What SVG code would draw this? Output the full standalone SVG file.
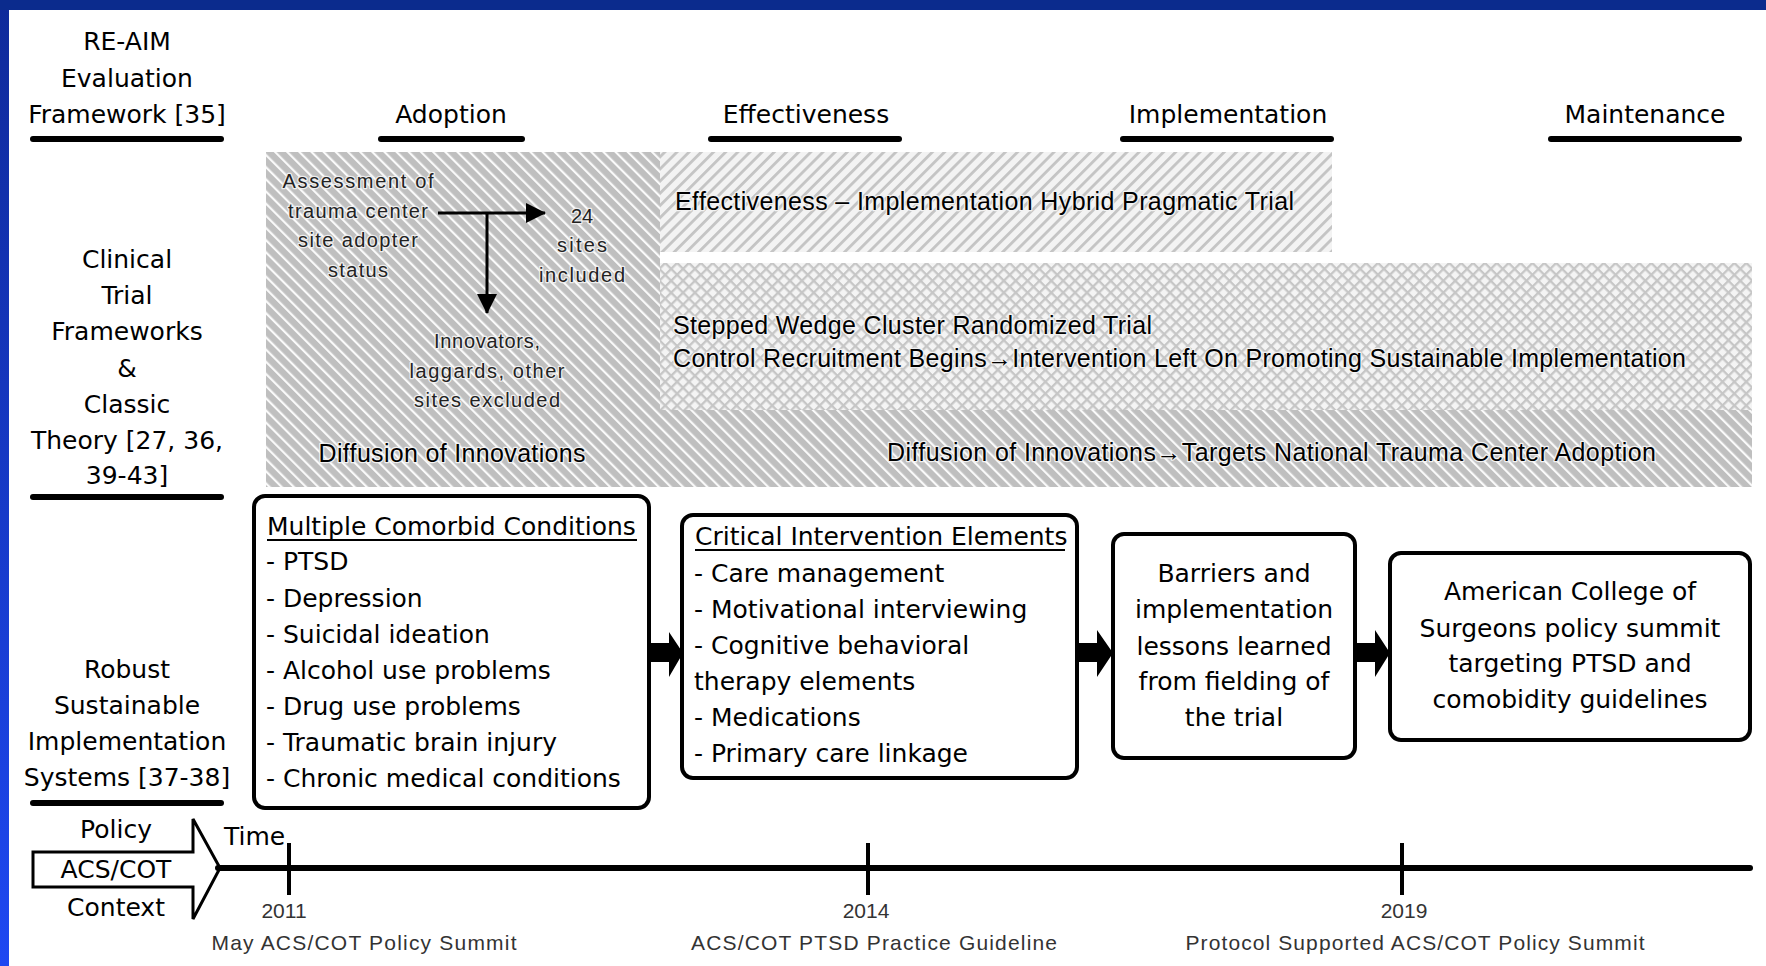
<svg xmlns="http://www.w3.org/2000/svg" width="1766" height="966" viewBox="0 0 1766 966">
<style>
.lab{font-family:"DejaVu Sans","Liberation Sans",sans-serif;font-size:25px;fill:#000}
.mid{text-anchor:middle}
.ht{font-family:"Liberation Sans",Arial,sans-serif;font-size:20px;fill:#222;stroke:#eee;stroke-width:2.5px;paint-order:stroke;stroke-linejoin:round}
.hb{font-family:"Liberation Sans",Arial,sans-serif;font-size:25px;fill:#000;stroke:#f2f2f2;stroke-width:2.5px;paint-order:stroke;stroke-linejoin:round}
.tl{font-family:"Liberation Sans",Arial,sans-serif;font-size:21px;fill:#333}
.ul{stroke:#000;stroke-width:6;stroke-linecap:round}
.box{fill:#fff;stroke:#000;stroke-width:4}
.tick{stroke:#000;stroke-width:4}
</style>
<defs>
<linearGradient id="lb" x1="0" y1="0" x2="0" y2="1">
<stop offset="0" stop-color="#0f2a9a"/>
<stop offset="1" stop-color="#1e48f2"/>
</linearGradient>
<pattern id="hd" patternUnits="userSpaceOnUse" width="8.6" height="8.6" patternTransform="rotate(-45)">
<rect width="8.6" height="8.6" fill="#bfbfbf"/>
<rect width="2.2" height="8.6" fill="#fafafa"/>
</pattern>
<pattern id="hl" patternUnits="userSpaceOnUse" width="8.6" height="8.6" patternTransform="rotate(45)">
<rect width="8.6" height="8.6" fill="#f3f3f3"/>
<rect width="2.8" height="8.6" fill="#c4c4c4"/>
</pattern>
<pattern id="hx" patternUnits="userSpaceOnUse" width="8.4" height="8.4" patternTransform="rotate(45)">
<rect width="8.4" height="8.4" fill="#f4f4f4"/>
<rect width="2.3" height="8.4" fill="#c6c6c6"/>
<rect width="8.4" height="2.3" fill="#c6c6c6"/>
</pattern>
<marker id="ah2" viewBox="0 0 20 20" refX="19" refY="10" markerWidth="20" markerHeight="20" orient="auto" markerUnits="userSpaceOnUse">
<path d="M0,0 L20,10 L0,20 Z" fill="#000"/>
</marker>
</defs>
<rect width="1766" height="966" fill="#fff"/>
<rect x="0" y="0" width="9" height="966" fill="url(#lb)"/>
<rect x="0" y="0" width="1766" height="10" fill="#0b2b8d"/>

<g id="bands">
<rect x="266" y="152" width="394" height="335" fill="url(#hd)"/>
<rect x="660" y="410" width="1092" height="77" fill="url(#hd)"/>
<rect x="660" y="152" width="672" height="100" fill="url(#hl)"/>
<rect x="660" y="263" width="1092" height="147" fill="url(#hx)"/>
</g>

<g id="reaim-header">
<text class="lab mid" x="127" y="50">RE-AIM</text>
<text class="lab mid" x="127" y="87">Evaluation</text>
<text class="lab mid" x="127" y="123">Framework [35]</text>
<line class="ul" x1="33" y1="139" x2="221" y2="139"/>
</g>
<g id="adoption-header">
<text class="lab mid" x="451" y="123">Adoption</text>
<line class="ul" x1="381" y1="139" x2="522" y2="139"/>
</g>
<g id="effectiveness-header">
<text class="lab mid" x="806" y="123">Effectiveness</text>
<line class="ul" x1="711" y1="139" x2="899" y2="139"/>
</g>
<g id="implementation-header">
<text class="lab mid" x="1228" y="123">Implementation</text>
<line class="ul" x1="1123" y1="139" x2="1331" y2="139"/>
</g>
<g id="maintenance-header">
<text class="lab mid" x="1645" y="123">Maintenance</text>
<line class="ul" x1="1551" y1="139" x2="1739" y2="139"/>
</g>

<g id="clinical-label">
<text class="lab mid" x="127" y="268">Clinical</text>
<text class="lab mid" x="127" y="304">Trial</text>
<text class="lab mid" x="127" y="340">Frameworks</text>
<text class="lab mid" x="127" y="377">&amp;</text>
<text class="lab mid" x="127" y="413">Classic</text>
<text class="lab mid" x="127" y="449">Theory [27, 36,</text>
<text class="lab mid" x="127" y="484">39-43]</text>
<line class="ul" x1="33" y1="497" x2="221" y2="497"/>
</g>
<g id="robust-label">
<text class="lab mid" x="127" y="678">Robust</text>
<text class="lab mid" x="127" y="714">Sustainable</text>
<text class="lab mid" x="127" y="750">Implementation</text>
<text class="lab mid" x="127" y="786">Systems [37-38]</text>
<line class="ul" x1="33" y1="803" x2="221" y2="803"/>
</g>

<g id="adoption-content">
<text class="ht mid" x="358" y="188" textLength="151">Assessment of</text>
<text class="ht mid" x="358" y="218" textLength="140">trauma center</text>
<text class="ht mid" x="358" y="247" textLength="120">site adopter</text>
<text class="ht mid" x="358" y="277" textLength="60">status</text>
<text class="ht mid" x="582" y="223">24</text>
<text class="ht mid" x="582" y="252" textLength="50">sites</text>
<text class="ht mid" x="582" y="282" textLength="86">included</text>
<text class="ht mid" x="487" y="348" textLength="106">Innovators,</text>
<text class="ht mid" x="487" y="378" textLength="155">laggards, other</text>
<text class="ht mid" x="487" y="407" textLength="146">sites excluded</text>
<text class="hb mid" x="452" y="462" textLength="267" font-size="24">Diffusion of Innovations</text>
</g>

<g id="trial-content">
<text class="hb" x="675" y="210" textLength="619">Effectiveness – Implementation Hybrid Pragmatic Trial</text>
<text class="hb" x="673" y="334" textLength="479">Stepped Wedge Cluster Randomized Trial</text>
<text class="hb" x="673" y="367" textLength="1013">Control Recruitment Begins→Intervention Left On Promoting Sustainable Implementation</text>
<text class="hb" x="887" y="461" textLength="769">Diffusion of Innovations→Targets National Trauma Center Adoption</text>
</g>

<g id="box-comorbid">
<rect class="box" x="254" y="496" width="395" height="312" rx="11"/>
<text class="lab" x="267" y="535">Multiple Comorbid Conditions</text>
<line x1="267" y1="540" x2="637" y2="540" stroke="#000" stroke-width="2"/>
<text class="lab" x="266" y="570">- PTSD</text>
<text class="lab" x="266" y="607">- Depression</text>
<text class="lab" x="266" y="643">- Suicidal ideation</text>
<text class="lab" x="266" y="679">- Alcohol use problems</text>
<text class="lab" x="266" y="715">- Drug use problems</text>
<text class="lab" x="266" y="751">- Traumatic brain injury</text>
<text class="lab" x="266" y="787">- Chronic medical conditions</text>
</g>

<g id="box-elements">
<rect class="box" x="682" y="515" width="395" height="263" rx="11"/>
<text class="lab" x="695" y="545">Critical Intervention Elements</text>
<line x1="695" y1="550" x2="1065" y2="550" stroke="#000" stroke-width="2"/>
<text class="lab" x="694" y="582">- Care management</text>
<text class="lab" x="694" y="618">- Motivational interviewing</text>
<text class="lab" x="694" y="654">- Cognitive behavioral</text>
<text class="lab" x="694" y="690">therapy elements</text>
<text class="lab" x="694" y="726">- Medications</text>
<text class="lab" x="694" y="762">- Primary care linkage</text>
</g>

<g id="box-barriers">
<rect class="box" x="1113" y="534" width="242" height="224" rx="11"/>
<text class="lab mid" x="1234" y="582">Barriers and</text>
<text class="lab mid" x="1234" y="618">implementation</text>
<text class="lab mid" x="1234" y="655">lessons learned</text>
<text class="lab mid" x="1234" y="690">from fielding of</text>
<text class="lab mid" x="1234" y="726">the trial</text>
</g>

<g id="box-acs">
<rect class="box" x="1390" y="553" width="360" height="187" rx="11"/>
<text class="lab mid" x="1570" y="600">American College of</text>
<text class="lab mid" x="1570" y="637">Surgeons policy summit</text>
<text class="lab mid" x="1570" y="672">targeting PTSD and</text>
<text class="lab mid" x="1570" y="708">comobidity guidelines</text>
</g>

<g id="policy-arrow">
<polygon points="33,852 193,852 193,819 220,868 193,919 193,887 33,887" fill="#fff" stroke="#000" stroke-width="3" stroke-linejoin="miter"/>
<text class="lab mid" x="116" y="838">Policy</text>
<text class="lab mid" x="116" y="878">ACS/COT</text>
<text class="lab mid" x="116" y="916">Context</text>
</g>

<g id="timeline">
<line x1="218" y1="868" x2="1750" y2="868" stroke="#000" stroke-width="6" stroke-linecap="round"/>
<line class="tick" x1="289" y1="843" x2="289" y2="895"/>
<line class="tick" x1="868" y1="843" x2="868" y2="895"/>
<line class="tick" x1="1402" y1="843" x2="1402" y2="895"/>
<text class="lab" x="224" y="845">Time</text>
<text class="tl mid" x="284" y="918">2011</text>
<text class="tl mid" x="364" y="950" textLength="305">May ACS/COT Policy Summit</text>
<text class="tl mid" x="866" y="918">2014</text>
<text class="tl mid" x="874" y="950" textLength="366">ACS/COT PTSD Practice Guideline</text>
<text class="tl mid" x="1404" y="918">2019</text>
<text class="tl mid" x="1415" y="950" textLength="459">Protocol Supported ACS/COT Policy Summit</text>
</g>

<g id="connectors">
<line x1="438" y1="213" x2="545" y2="213" stroke="#000" stroke-width="3" marker-end="url(#ah2)"/>
<line x1="487" y1="213" x2="487" y2="313" stroke="#000" stroke-width="3" marker-end="url(#ah2)"/>
<polygon points="649,643 669,643 669,632 683,653 669,677 669,662 649,662" fill="#000"/>
<polygon points="1077,643 1097,643 1097,630 1113,653 1097,677 1097,662 1077,662" fill="#000"/>
<polygon points="1355,643 1375,643 1375,630 1390,653 1375,677 1375,662 1355,662" fill="#000"/>
</g>
</svg>
